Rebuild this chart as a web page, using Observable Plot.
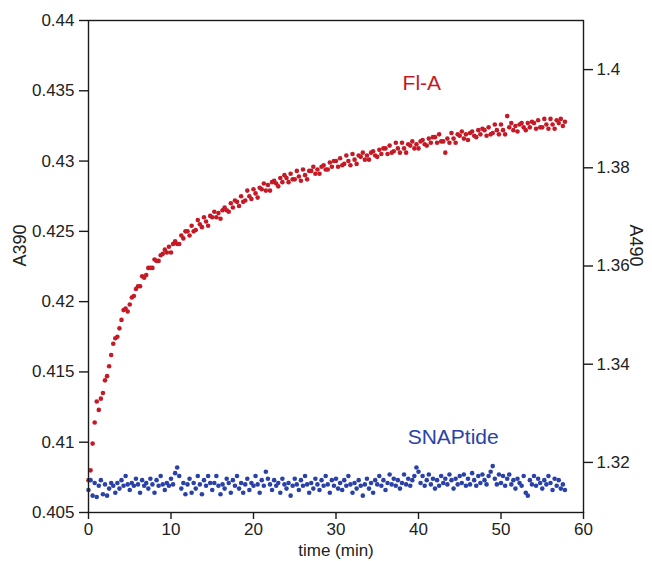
<!DOCTYPE html>
<html>
<head>
<meta charset="utf-8">
<script src="https://cdn.jsdelivr.net/npm/d3@7"></script>
<script src="https://cdn.jsdelivr.net/npm/@observablehq/plot@0.6"></script>
<style>
  html, body { margin: 0; padding: 0; background: #fff; }
</style>
</head>
<body>
<div id="chart"></div>
<script>
// Sampling times (min)
const times = [
0,0.25,0.5,0.75,1,1.25,1.5,1.75,2,2.25,2.5,2.75,3,3.25,3.5,3.75,4,4.25,4.5,4.75,
5,5.25,5.5,5.75,6,6.25,6.5,6.75,7,7.25,7.5,7.75,8,8.25,8.5,8.75,9,9.25,9.5,9.75,
10,10.25,10.5,10.75,11,11.25,11.5,11.75,12,12.25,12.5,12.75,13,13.25,13.5,13.75,14,14.25,14.5,14.75,
15,15.25,15.5,15.75,16,16.25,16.5,16.75,17,17.25,17.5,17.75,18,18.25,18.5,18.75,19,19.25,19.5,19.75,
20,20.25,20.5,20.75,21,21.25,21.5,21.75,22,22.25,22.5,22.75,23,23.25,23.5,23.75,24,24.25,24.5,24.75,
25,25.25,25.5,25.75,26,26.25,26.5,26.75,27,27.25,27.5,27.75,28,28.25,28.5,28.75,29,29.25,29.5,29.75,
30,30.25,30.5,30.75,31,31.25,31.5,31.75,32,32.25,32.5,32.75,33,33.25,33.5,33.75,34,34.25,34.5,34.75,
35,35.25,35.5,35.75,36,36.25,36.5,36.75,37,37.25,37.5,37.75,38,38.25,38.5,38.75,39,39.25,39.5,39.75,
40,40.25,40.5,40.75,41,41.25,41.5,41.75,42,42.25,42.5,42.75,43,43.25,43.5,43.75,44,44.25,44.5,44.75,
45,45.25,45.5,45.75,46,46.25,46.5,46.75,47,47.25,47.5,47.75,48,48.25,48.5,48.75,49,49.25,49.5,49.75,
50,50.25,50.5,50.75,51,51.25,51.5,51.75,52,52.25,52.5,52.75,53,53.25,53.5,53.75,54,54.25,54.5,54.75,
55,55.25,55.5,55.75,56,56.25,56.5,56.75,57,57.25,57.5,57.75
];

// Fl-A series (read on the A390 scale)
const flA = [
0.4073,0.4080,0.4099,0.4114, 0.4129,0.4123,0.4131,0.4135, 0.4144,0.4147,0.4154,0.4162, 0.4170,0.4174,0.4175,0.4181,
0.4187,0.4194,0.4195,0.4193, 0.4198,0.4203,0.4204,0.4209, 0.4211,0.4211,0.4218,0.4217, 0.4219,0.4224,0.4224,0.4224,
0.4230,0.4229,0.4229,0.4233, 0.4234,0.4237,0.4235,0.4239, 0.4235,0.4241,0.4243,0.4241, 0.4241,0.4247,0.4245,0.4250,
0.4250,0.4247,0.4254,0.4250, 0.4251,0.4258,0.4255,0.4253, 0.4260,0.4257,0.4254,0.4261, 0.4260,0.4264,0.4260,0.4263,
0.4259,0.4265,0.4267,0.4265, 0.4264,0.4270,0.4267,0.4272, 0.4271,0.4268,0.4275,0.4271, 0.4272,0.4279,0.4275,0.4273,
0.4280,0.4277,0.4274,0.4281, 0.4280,0.4284,0.4279,0.4283, 0.4279,0.4285,0.4286,0.4284, 0.4282,0.4288,0.4285,0.4290,
0.4288,0.4285,0.4291,0.4287, 0.4287,0.4293,0.4289,0.4286, 0.4294,0.4290,0.4287,0.4293, 0.4293,0.4296,0.4291,0.4294,
0.4291,0.4296,0.4297,0.4294, 0.4294,0.4299,0.4296,0.4300, 0.4300,0.4296,0.4302,0.4297, 0.4298,0.4304,0.4300,0.4297,
0.4305,0.4301,0.4298,0.4304, 0.4303,0.4306,0.4301,0.4304, 0.4301,0.4306,0.4307,0.4304, 0.4303,0.4308,0.4305,0.4309,
0.4309,0.4305,0.4311,0.4306, 0.4307,0.4313,0.4309,0.4306, 0.4313,0.4309,0.4306,0.4312, 0.4311,0.4314,0.4309,0.4312,
0.4309,0.4314,0.4315,0.4312, 0.4311,0.4316,0.4313,0.4317, 0.4317,0.4313,0.4319,0.4314, 0.4314,0.4306,0.4316,0.4313,
0.4320,0.4316,0.4313,0.4319, 0.4318,0.4321,0.4316,0.4319, 0.4315,0.4320,0.4321,0.4318, 0.4317,0.4322,0.4319,0.4323,
0.4322,0.4318,0.4324,0.4319, 0.4320,0.4326,0.4322,0.4319, 0.4326,0.4322,0.4319,0.4332, 0.4324,0.4327,0.4322,0.4325,
0.4321,0.4326,0.4327,0.4324, 0.4322,0.4327,0.4324,0.4328, 0.4327,0.4323,0.4329,0.4324, 0.4324,0.4330,0.4326,0.4323,
0.4330,0.4326,0.4323,0.4329, 0.4327,0.4330,0.4325,0.4328
];

// SNAPtide series (read on the A390 scale)
const snap = [
0.4066,0.4073,0.4062,0.4071, 0.4061,0.4069,0.4073,0.4063, 0.4070,0.4062,0.4067,0.4071, 0.4069,0.4064,0.4071,0.4067,
0.4073,0.4069,0.4076,0.4070, 0.4066,0.4071,0.4069,0.4074, 0.4070,0.4064,0.4073,0.4069, 0.4071,0.4067,0.4074,0.4070,
0.4064,0.4073,0.4069,0.4076, 0.4070,0.4066,0.4071,0.4069, 0.4074,0.4070,0.4078,0.4082, 0.4076,0.4067,0.4071,0.4063,
0.4070,0.4074,0.4064,0.4071, 0.4067,0.4076,0.4070,0.4063, 0.4073,0.4069,0.4076,0.4071, 0.4066,0.4071,0.4076,0.4069,
0.4063,0.4070,0.4067,0.4074, 0.4071,0.4064,0.4073,0.4069, 0.4076,0.4067,0.4071,0.4064, 0.4070,0.4074,0.4066,0.4071,
0.4069,0.4076,0.4070,0.4064, 0.4073,0.4069,0.4079,0.4074, 0.4070,0.4066,0.4073,0.4069, 0.4071,0.4064,0.4074,0.4070,
0.4067,0.4071,0.4062,0.4069, 0.4074,0.4070,0.4066,0.4073, 0.4069,0.4076,0.4070,0.4064, 0.4071,0.4067,0.4074,0.4070,
0.4066,0.4073,0.4069,0.4076, 0.4070,0.4064,0.4073,0.4069, 0.4074,0.4067,0.4071,0.4066, 0.4073,0.4069,0.4076,0.4070,
0.4064,0.4071,0.4067,0.4073, 0.4069,0.4062,0.4070,0.4074, 0.4067,0.4071,0.4064,0.4073, 0.4070,0.4076,0.4069,0.4073,
0.4066,0.4071,0.4077,0.4070, 0.4074,0.4069,0.4073,0.4067, 0.4071,0.4077,0.4070,0.4074, 0.4069,0.4073,0.4076,0.4082,
0.4079,0.4071,0.4076,0.4069, 0.4073,0.4077,0.4070,0.4074, 0.4067,0.4073,0.4069,0.4076, 0.4071,0.4074,0.4070,0.4077,
0.4073,0.4067,0.4074,0.4070, 0.4076,0.4071,0.4077,0.4069, 0.4074,0.4070,0.4078,0.4073, 0.4069,0.4076,0.4071,0.4077,
0.4073,0.4070,0.4076,0.4079, 0.4083,0.4074,0.4070,0.4077, 0.4071,0.4076,0.4069,0.4074, 0.4077,0.4070,0.4073,0.4067,
0.4074,0.4071,0.4069,0.4076, 0.4064,0.4062,0.4073,0.4070, 0.4076,0.4069,0.4074,0.4071, 0.4067,0.4073,0.4070,0.4076,
0.4071,0.4066,0.4074,0.4069, 0.4073,0.4067,0.4070,0.4066
];

// Axes
const xTicks = [0, 10, 20, 30, 40, 50, 60];
const xDomain = [0, 60];
const leftDomain = [0.405, 0.44];
const leftTicks = [0.405, 0.41, 0.415, 0.42, 0.425, 0.43, 0.435, 0.44];
const rightDomain = [1.3098, 1.41];
const rightTicks = [1.32, 1.34, 1.36, 1.38, 1.4];

const seriesNames = ["Fl-A", "SNAPtide"];
const seriesColors = ["#c41a26", "#2a42a8"];

// map right-axis value onto left scale (shared pixel range)
const toLeft = r => leftDomain[0] + (r - rightDomain[0]) * (leftDomain[1] - leftDomain[0]) / (rightDomain[1] - rightDomain[0]);
const fromLeft = v => rightDomain[0] + (v - leftDomain[0]) * (rightDomain[1] - rightDomain[0]) / (leftDomain[1] - leftDomain[0]);

const redData = times.map((t, i) => ({t, v: flA[i]}));
const blueData = times.map((t, i) => ({t, v: snap[i]}));

const axisStyle = {stroke: "#1a1a1a", strokeWidth: 1.4, fill: "#222", label: null};

const chart = Plot.plot({
  width: 652,
  height: 561,
  marginLeft: 88,
  marginRight: 69,
  marginTop: 20,
  marginBottom: 49,
  style: {fontFamily: "'Liberation Sans', Arial, Helvetica, sans-serif", fontSize: "17px", background: "#fff", color: "#222"},
  x: {domain: xDomain},
  y: {domain: leftDomain},
  marks: [
    Plot.dot(redData, {x: "t", y: "v", r: 2.3, fill: seriesColors[0], stroke: "none"}),
    Plot.dot(blueData, {x: "t", y: "v", r: 2.3, fill: seriesColors[1], stroke: "none"}),
    Plot.frame({stroke: "#1a1a1a", strokeWidth: 1.4}),
    Plot.axisX({...axisStyle, ticks: xTicks, tickSize: 7, tickPadding: 3, tickFormat: d => String(d)}),
    Plot.axisY({...axisStyle, anchor: "left", ticks: leftTicks, tickSize: 9, tickPadding: 5, tickFormat: d => String(+d.toFixed(3))}),
    Plot.axisY({...axisStyle, anchor: "right", ticks: rightTicks.map(toLeft), tickSize: 9, tickPadding: 4, tickFormat: d => String(+fromLeft(d).toFixed(2))}),
    Plot.text(["time (min)"], {frameAnchor: "bottom", dy: 38, lineAnchor: "middle", fontSize: 17, fill: "#222"}),
    Plot.text(["A390"], {frameAnchor: "left", dx: -68, rotate: -90, fontSize: 18, fill: "#222"}),
    Plot.text(["A490"], {frameAnchor: "right", dx: 52, rotate: 90, fontSize: 18, fill: "#222"}),
    Plot.text([seriesNames[0]], {x: 40.4, y: 0.43552, fontSize: 21, fill: seriesColors[0]}),
    Plot.text([seriesNames[1]], {x: 44.2, y: 0.41034, fontSize: 21, fill: seriesColors[1]})
  ]
});
document.getElementById("chart").appendChild(chart);
</script>
</body>
</html>
